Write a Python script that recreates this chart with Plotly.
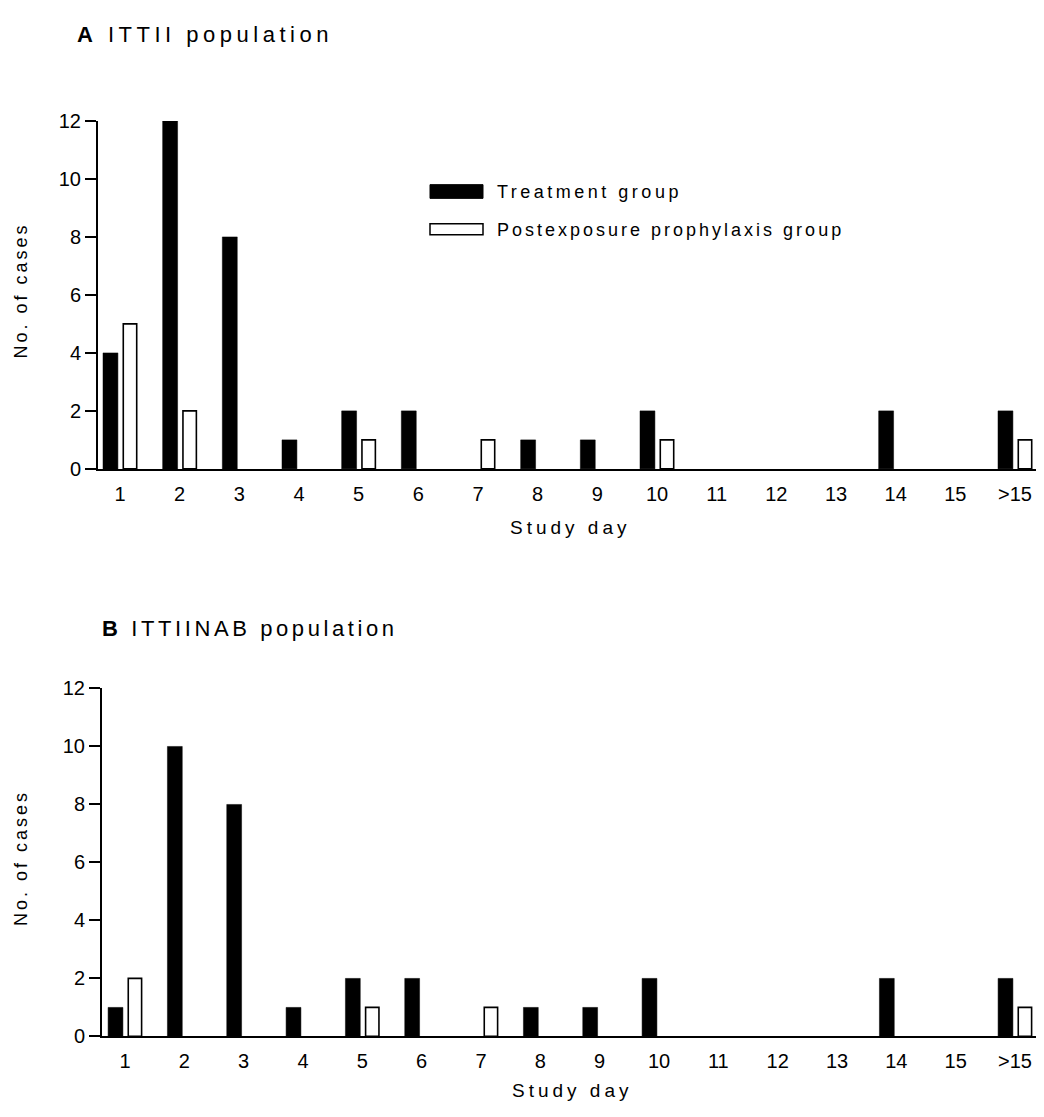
import plotly.graph_objects as go

# ---------------- data ----------------
days = ["1", "2", "3", "4", "5", "6", "7", "8", "9", "10", "11", "12", "13", "14", "15", ">15"]
treat_a = [4, 12, 8, 1, 2, 2, 0, 1, 1, 2, 0, 0, 0, 2, 0, 2]
pep_a = [5, 2, 0, 0, 1, 0, 1, 0, 0, 1, 0, 0, 0, 0, 0, 1]
treat_b = [1, 10, 8, 1, 2, 2, 0, 1, 1, 2, 0, 0, 0, 2, 0, 2]
pep_b = [2, 0, 0, 0, 1, 0, 1, 0, 0, 0, 0, 0, 0, 0, 0, 1]
y_ticks = [0, 2, 4, 6, 8, 10, 12]
series_names = ["Treatment group", "Postexposure prophylaxis group"]
panel_titles = ["<b>A</b> ITTII population", "<b>B</b> ITTIINAB population"]
x_title = "Study day"
y_title = "No. of cases"

# ---------------- layout helpers ----------------
VW, VH = 1044, 1117          # browser window
OFF = 8                      # default body margin of the page
W, H = VW - OFF, VH - OFF    # figure size so it fills the window exactly
FONT = "Liberation Sans, Arial, Helvetica, sans-serif"


def fx(p):
    return (p - OFF) / W


def fy(p):
    return 1 - (p - OFF) / H


def ls(text, px):
    return f'<span style="letter-spacing:{px}px">{text}</span>'


def outline_widths(vals, w):
    return [w if v > 0 else 0 for v in vals]


fig = go.Figure()

panels = [
    dict(treat=treat_a, pep=pep_a, xa="x", ya="y"),
    dict(treat=treat_b, pep=pep_b, xa="x2", ya="y2"),
]
for p in panels:
    fig.add_trace(go.Bar(
        x=days, y=p["treat"], name=series_names[0], xaxis=p["xa"], yaxis=p["ya"],
        width=0.25, offset=-0.285,
        marker=dict(color="black", line=dict(color="black", width=outline_widths(p["treat"], 0.5))),
        showlegend=False,
    ))
    fig.add_trace(go.Bar(
        x=days, y=p["pep"], name=series_names[1], xaxis=p["xa"], yaxis=p["ya"],
        width=0.225, offset=0.055,
        marker=dict(color="white", line=dict(color="black", width=outline_widths(p["pep"], 1.6))),
        showlegend=False,
    ))

# panel geometry (pixels in the window)
geo = [
    dict(axis_px=98, first_px=120, last_px=1015, right_px=1042, top_px=112, bot_px=467),
    dict(axis_px=102, first_px=125, last_px=1015, right_px=1042, top_px=691, bot_px=1046),
]

axis_common = dict(showline=True, linecolor="black", linewidth=2, showgrid=False,
                   zeroline=False, tickfont=dict(family=FONT, size=20, color="black"))

for i, g in enumerate(geo):
    step = (g["last_px"] - g["first_px"]) / 15
    r0 = -(g["first_px"] - g["axis_px"]) / step
    r1 = 15 + (g["right_px"] - g["last_px"]) / step
    sfx = "" if i == 0 else "2"
    fig.update_layout(**{
        "xaxis" + sfx: dict(
            **axis_common, type="category", categoryorder="array", categoryarray=days,
            domain=[fx(g["axis_px"]), fx(g["right_px"])], range=[r0, r1],
            ticks="", ticklabelstandoff=6, anchor="y" + sfx,
        ),
        "yaxis" + sfx: dict(
            **axis_common, domain=[fy(g["bot_px"]), fy(g["top_px"])], range=[0, 12],
            tickvals=y_ticks, ticks="outside", ticklen=11, tickwidth=1.5, tickcolor="black",
            anchor="x" + sfx,
        ),
    })

annotations = [
    dict(text=ls(panel_titles[0], 4.5), x=fx(75), y=fy(24), xanchor="left", yanchor="middle",
         font=dict(size=22)),
    dict(text=ls(panel_titles[1], 3.6), x=fx(100), y=fy(630), xanchor="left", yanchor="middle",
         font=dict(size=22)),
    dict(text=ls(x_title, 4), x=fx(570), y=fy(527), xanchor="center", yanchor="middle",
         font=dict(size=19)),
    dict(text=ls(x_title, 4), x=fx(572), y=fy(1101), xanchor="center", yanchor="middle",
         font=dict(size=19)),
    dict(text=ls(y_title, 3), x=fx(21), y=fy(285), xanchor="center", yanchor="middle",
         textangle=-90, font=dict(size=18)),
    dict(text=ls(y_title, 3), x=fx(21), y=fy(864), xanchor="center", yanchor="middle",
         textangle=-90, font=dict(size=18)),
    dict(text=ls(series_names[0], 3.5), x=fx(495), y=fy(184), xanchor="left", yanchor="middle",
         font=dict(size=18)),
    dict(text=ls(series_names[1], 3), x=fx(495), y=fy(223), xanchor="left", yanchor="middle",
         font=dict(size=18)),
]
for a in annotations:
    a.update(xref="paper", yref="paper", showarrow=False)
    a["font"].update(family=FONT, color="black")

shapes = [
    dict(type="rect", xref="paper", yref="paper", x0=fx(430), x1=fx(483), y0=fy(191), y1=fy(177),
         fillcolor="black", line=dict(color="black", width=1)),
    dict(type="rect", xref="paper", yref="paper", x0=fx(430), x1=fx(483), y0=fy(228), y1=fy(217),
         fillcolor="white", line=dict(color="black", width=1.5)),
]

fig.update_layout(
    width=W, height=H, margin=dict(l=0, r=0, t=0, b=0),
    paper_bgcolor="white", plot_bgcolor="white",
    barmode="overlay", annotations=annotations, shapes=shapes,
    font=dict(family=FONT, color="black"),
)

fig.write_html("out.html")
